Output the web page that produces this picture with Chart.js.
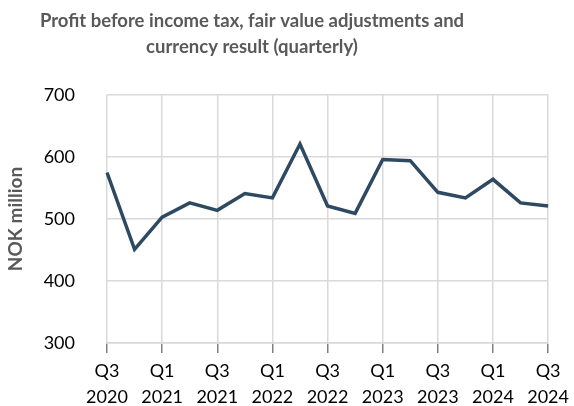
<!DOCTYPE html>
<html>
<head>
<meta charset="utf-8">
<script src="https://cdn.jsdelivr.net/npm/chart.js@4.4.1/dist/chart.umd.min.js"></script>
<style>
  html, body { margin: 0; padding: 0; background: #ffffff; }
  #wrap { position: relative; width: 574px; height: 406px; }
</style>
</head>
<body>
<div id="wrap"><canvas id="c" width="574" height="406"></canvas></div>
<script>
const titleLines = ["Profit before income tax, fair value adjustments and", "currency result (quarterly)"];
const yAxisTitle = "NOK million";
const quarters = ["Q3 2020","Q4 2020","Q1 2021","Q2 2021","Q3 2021","Q4 2021","Q1 2022","Q2 2022","Q3 2022","Q4 2022","Q1 2023","Q2 2023","Q3 2023","Q4 2023","Q1 2024","Q2 2024","Q3 2024"];
const profit = [575, 451, 503, 526, 514, 541, 534, 621, 521, 509, 596, 594, 543, 534, 564, 526, 521];
const yTicks = [300, 400, 500, 600, 700];

const FONT = "Lato, 'Open Sans', sans-serif";

const titlePlugin = {
  id: 'customTitle',
  afterDraw(chart) {
    const ctx = chart.ctx;
    ctx.save();
    ctx.font = "bold 18.5px " + FONT;
    ctx.fillStyle = "#595959";
    ctx.textAlign = "center";
    ctx.textBaseline = "middle";
    ctx.fillText(titleLines[0], 252, 21);
    ctx.fillText(titleLines[1], 252, 47);
    ctx.restore();
  }
};

new Chart(document.getElementById('c'), {
  type: 'line',
  data: {
    labels: quarters,
    datasets: [{
      data: profit,
      borderColor: '#2E4A62',
      backgroundColor: '#2E4A62',
      borderWidth: 3.5,
      pointRadius: 0,
      tension: 0,
      fill: false
    }]
  },
  options: {
    responsive: false,
    animation: false,
    devicePixelRatio: 1,
    layout: { padding: { top: 95, right: 20, bottom: 0, left: 0 } },
    plugins: { legend: { display: false }, tooltip: { enabled: false }, title: { display: false } },
    scales: {
      x: {
        type: 'category',
        offset: false,
        afterFit(axis) { axis.height = 63; },
        grid: {
          color: '#D9D9D9',
          lineWidth: 1.5,
          tickColor: '#808080',
          tickLength: 10,
          drawTicks: true
        },
        border: { color: '#D9D9D9', width: 1.5 },
        ticks: {
          autoSkip: false,
          maxRotation: 0,
          minRotation: 0,
          padding: 5,
          color: '#000000',
          font: { family: FONT, size: 18, lineHeight: 1.45 },
          callback(value, index) {
            if (index % 2 !== 0) return null;
            return quarters[index].split(' ');
          }
        }
      },
      y: {
        min: 300,
        max: 700,
        afterFit(axis) { axis.width = 107; },
        afterBuildTicks(axis) { axis.ticks = yTicks.map(v => ({ value: v })); },
        grid: { color: '#D9D9D9', lineWidth: 1.5, drawTicks: false },
        border: { display: false },
        ticks: {
          padding: 32,
          color: '#000000',
          font: { family: FONT, size: 18 }
        },
        title: {
          display: true,
          text: yAxisTitle,
          color: '#595959',
          font: { family: FONT, size: 19, weight: 'bold' },
          padding: { top: 4, bottom: 0 }
        }
      }
    }
  },
  plugins: [titlePlugin]
});
</script>
</body>
</html>
